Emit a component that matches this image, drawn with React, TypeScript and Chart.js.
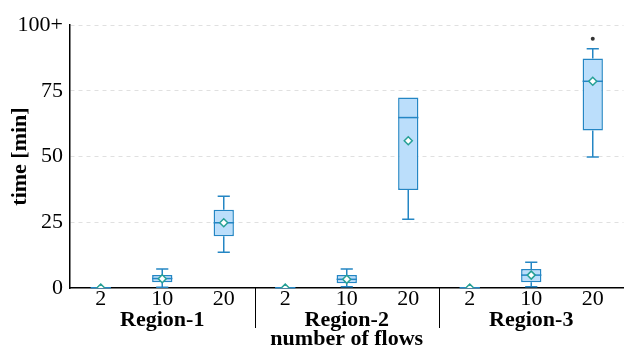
import React, { useEffect, useRef } from "react";
import { Chart, registerables } from "chart.js";

Chart.register(...registerables);

const categories = ["2", "10", "20", "2", "10", "20", "2", "10", "20"];
const regions = ["Region-1", "Region-2", "Region-3"];
const whiskerMin = [0, 0.3, 13.6, 0, 0.5, 26.1, 0, 0.5, 49.8];
const q1 = [0, 2.2, 19.7, 0, 1.8, 37.3, 0, 2.2, 59.9];
const median = [0.1, 3.6, 24.8, 0.1, 3.3, 64.8, 0.1, 4.9, 78.6];
const q3 = [0.4, 4.9, 29.8, 0.4, 4.9, 72.4, 0.4, 7.2, 87.3];
const whiskerMax = [0.4, 7.2, 34.9, 0.4, 7.2, 72.4, 0.4, 9.8, 91.0];
const means = [0, 3.5, 24.8, 0, 3.3, 56.0, 0, 4.9, 78.6];
const outliers = [null, null, null, null, null, null, null, null, 94.8];
const yTicks = [0, 25, 50, 75, 100];

const FONT = "'Liberation Serif', 'Times New Roman', serif";
const FS = 22;
const BOX_FILL = "rgba(187,222,251,1)";
const BOX_LINE = "rgb(36,134,196)";
const MEAN_LINE = "rgb(38,160,150)";

const boxPlugin = {
  id: "boxExtras",
  beforeDatasetsDraw(chart: any) {
    const { ctx, scales } = chart;
    const x = scales.x;
    const y = scales.y;
    const meta = chart.getDatasetMeta(2);
    ctx.save();
    ctx.strokeStyle = BOX_LINE;
    ctx.lineWidth = 1.5;
    categories.forEach((_, i) => {
      const cx = x.getPixelForValue(i);
      const bw = meta.data[i] ? meta.data[i].width : 20;
      const cap = bw * 0.6;
      const yMin = y.getPixelForValue(whiskerMin[i]);
      const yQ1 = y.getPixelForValue(q1[i]);
      const yQ3 = y.getPixelForValue(q3[i]);
      const yMax = y.getPixelForValue(whiskerMax[i]);
      ctx.beginPath();
      if (whiskerMin[i] < q1[i]) {
        ctx.moveTo(cx, yQ1);
        ctx.lineTo(cx, yMin);
        ctx.moveTo(cx - cap / 2, yMin);
        ctx.lineTo(cx + cap / 2, yMin);
      }
      if (whiskerMax[i] > q3[i]) {
        ctx.moveTo(cx, yQ3);
        ctx.lineTo(cx, yMax);
        ctx.moveTo(cx - cap / 2, yMax);
        ctx.lineTo(cx + cap / 2, yMax);
      }
      ctx.stroke();
    });
    ctx.restore();
  },
  afterDatasetDraw(chart: any, args: any) {
    if (args.index !== 2) return;
    const { ctx, scales } = chart;
    const x = scales.x;
    const y = scales.y;
    const meta = chart.getDatasetMeta(2);
    ctx.save();
    ctx.strokeStyle = BOX_LINE;
    ctx.lineWidth = 1.5;
    categories.forEach((_, i) => {
      const cx = x.getPixelForValue(i);
      const bw = meta.data[i] ? meta.data[i].width : 20;
      const ym = y.getPixelForValue(median[i]);
      ctx.beginPath();
      ctx.moveTo(cx - bw / 2, ym);
      ctx.lineTo(cx + bw / 2, ym);
      ctx.stroke();
    });
    ctx.restore();
  },
  afterDraw(chart: any) {
    const { ctx, scales } = chart;
    const x = scales.x;
    const area = chart.chartArea;
    ctx.save();
    ctx.fillStyle = "#000";
    ctx.font = `bold ${FS}px ${FONT}`;
    ctx.textAlign = "center";
    ctx.textBaseline = "middle";
    regions.forEach((r, g) => {
      const cx = x.getPixelForValue(g * 3 + 1);
      ctx.fillText(r, cx, area.bottom + 32);
    });
    ctx.strokeStyle = "#000";
    ctx.lineWidth = 1;
    for (let g = 1; g < regions.length; g++) {
      const sx = Math.round((x.getPixelForValue(g * 3 - 1) + x.getPixelForValue(g * 3)) / 2) + 0.5;
      ctx.beginPath();
      ctx.moveTo(sx, area.bottom);
      ctx.lineTo(sx, area.bottom + 40);
      ctx.stroke();
    }
    ctx.restore();
  },
};

export default function App() {
  const ref = useRef<HTMLCanvasElement | null>(null);
  useEffect(() => {
    if (!ref.current) return;
    const chart = new Chart(ref.current, {
      type: "bar",
      data: {
        labels: categories,
        datasets: [
          {
            type: "line",
            label: "mean",
            data: means,
            showLine: false,
            pointStyle: "rectRot",
            pointRadius: 4,
            pointBackgroundColor: "#fff",
            pointBorderColor: MEAN_LINE,
            pointBorderWidth: 1.5,
            order: 0,
          } as any,
          {
            type: "line",
            label: "outliers",
            data: outliers,
            showLine: false,
            pointStyle: "circle",
            pointRadius: 2,
            pointBackgroundColor: "#333",
            pointBorderColor: "#333",
            pointBorderWidth: 0,
            order: 1,
          } as any,
          {
            type: "bar",
            label: "box",
            data: q1.map((v, i) => [v, q3[i]]),
            backgroundColor: BOX_FILL,
            borderColor: BOX_LINE,
            borderWidth: 1.5,
            borderSkipped: false,
            categoryPercentage: 1,
            barPercentage: 0.33,
            order: 2,
          } as any,
        ],
      },
      options: {
        animation: false,
        responsive: false,
        maintainAspectRatio: false,
        layout: { padding: { top: 25, right: 0, left: 0, bottom: 0 } },
        plugins: { legend: { display: false }, tooltip: { enabled: false } },
        scales: {
          x: {
            offset: true,
            grid: { display: false, drawTicks: false },
            border: { display: true, color: "#000", width: 1.5 },
            ticks: {
              color: "#000",
              font: { family: FONT, size: FS, lineHeight: 1 },
              padding: 0,
              maxRotation: 0,
              autoSkip: false,
            },
            title: {
              display: true,
              text: "number of flows",
              color: "#000",
              font: { family: FONT, size: FS, weight: "bold", lineHeight: 1 },
              padding: { top: 0, bottom: 0 },
            },
            afterFit: (s: any) => {
              s.height = 62;
            },
          },
          y: {
            min: 0,
            max: 100,
            afterBuildTicks: (s: any) => {
              s.ticks = yTicks.map((v) => ({ value: v }));
            },
            grid: {
              color: (c: any) => (c.tick && c.tick.value === 0 ? "rgba(0,0,0,0)" : "#e0e0e0"),
              drawTicks: false,
            },
            border: { display: true, color: "#000", width: 1.5, dash: [4, 4] },
            ticks: {
              color: "#000",
              font: { family: FONT, size: FS },
              padding: 7,
              callback: (v: any) => (Number(v) === 100 ? "100+" : String(v)),
            },
            title: {
              display: true,
              text: "time [min]",
              color: "#000",
              font: { family: FONT, size: FS, weight: "bold" },
              padding: { top: 7, bottom: 0 },
            },
            afterFit: (s: any) => {
              s.width = 70;
            },
          },
        },
      },
      plugins: [boxPlugin],
    } as any);
    return () => chart.destroy();
  }, []);
  return (
    <div style={{ position: "fixed", left: 0, top: 0, width: 629, height: 350 }}>
      <canvas ref={ref} width={629} height={350} style={{ width: 629, height: 350 }} />
    </div>
  );
}
